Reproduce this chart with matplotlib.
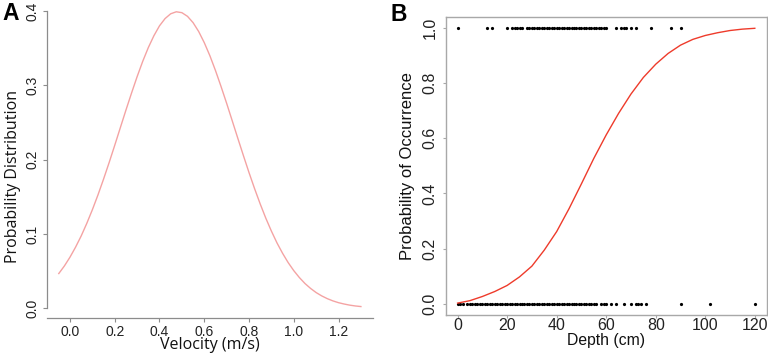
import matplotlib
matplotlib.use("Agg")
import matplotlib.pyplot as plt

# ---------------- data ----------------
# Panel A: probability distribution vs velocity
velocity = [-0.050, -0.025, 0.000, 0.025, 0.050, 0.075, 0.100, 0.125, 0.150,
            0.175, 0.200, 0.225, 0.250, 0.275, 0.300, 0.325, 0.350, 0.375,
            0.400, 0.425, 0.450, 0.475, 0.500, 0.525, 0.550, 0.575, 0.600,
            0.625, 0.650, 0.675, 0.700, 0.725, 0.750, 0.775, 0.800, 0.825,
            0.850, 0.875, 0.900, 0.925, 0.950, 0.975, 1.000, 1.025, 1.050,
            1.075, 1.100, 1.125, 1.150, 1.175, 1.200, 1.225, 1.250, 1.275,
            1.300]
prob_dist = [0.0468, 0.0570, 0.0688, 0.0823, 0.0973, 0.1142, 0.1326, 0.1525,
             0.1738, 0.1961, 0.2193, 0.2430, 0.2666, 0.2895, 0.3116, 0.3322,
             0.3507, 0.3667, 0.3800, 0.3898, 0.3962, 0.3989, 0.3977, 0.3928,
             0.3843, 0.3724, 0.3574, 0.3399, 0.3200, 0.2984, 0.2758, 0.2523,
             0.2287, 0.2054, 0.1826, 0.1609, 0.1404, 0.1213, 0.1039, 0.0880,
             0.0740, 0.0615, 0.0507, 0.0414, 0.0334, 0.0268, 0.0212, 0.0167,
             0.0130, 0.0100, 0.0076, 0.0058, 0.0043, 0.0032, 0.0024]

# Panel B: fitted probability of occurrence vs depth
depth_fit = [0, 5, 10, 15, 20, 25, 30, 35, 40, 45, 50, 55, 60, 65, 70, 75,
             80, 85, 90, 95, 100, 105, 110, 115, 120]
prob_fit = [0.003, 0.012, 0.027, 0.045, 0.067, 0.098, 0.137, 0.195, 0.262,
            0.345, 0.435, 0.527, 0.612, 0.690, 0.760, 0.820, 0.868, 0.907,
            0.937, 0.958, 0.972, 0.982, 0.990, 0.995, 0.998]

# observed depths where species present (1) / absent (0)
depth_present = [0, 12, 14, 20, 22, 23, 24, 25, 26, 28, 29, 30, 31, 32, 33,
                 34, 35, 36, 37, 38, 39, 40, 41, 42, 43, 44, 45, 46, 47, 48,
                 49, 50, 51, 52, 53, 54, 55, 56, 57, 58, 59, 60, 64, 66, 67,
                 68, 70, 72, 78, 86, 90]
depth_absent = [0, 1, 2, 4, 5, 6, 7, 8, 9, 10, 11, 12, 13, 14, 15, 16, 17,
                18, 19, 20, 21, 22, 23, 24, 25, 26, 27, 28, 29, 30, 31, 32,
                33, 34, 35, 36, 37, 38, 39, 40, 41, 42, 43, 44, 45, 46, 47,
                48, 49, 50, 51, 52, 53, 54, 55, 56, 58, 59, 60, 62, 64, 67,
                70, 72, 73, 74, 76, 90, 102, 120]

xticksA = [0.0, 0.2, 0.4, 0.6, 0.8, 1.0, 1.2]
yticksA = [0.0, 0.1, 0.2, 0.3, 0.4]
xticksB = [0, 20, 40, 60, 80, 100, 120]
yticksB = [0.0, 0.2, 0.4, 0.6, 0.8, 1.0]

# ---------------- figure ----------------
W, H = 768, 356
fig = plt.figure(figsize=(W / 100, H / 100), dpi=100)


def rect(l, t, r, b):
    return [l / W, 1 - b / H, (r - l) / W, (b - t) / H]


TICKFONT = "Liberation Sans"
axis_gray = "#8c8c8c"

# ----- Panel A -----
axA = fig.add_axes(rect(46.7, 0.7, 373, 318.3))
axA.plot(velocity, prob_dist, color="#F4A3A3", lw=1.0)
axA.set_xlim(-0.104, 1.354)
axA.set_ylim(-0.0134, 0.4138)
for s in ["top", "right"]:
    axA.spines[s].set_visible(False)
axA.spines["left"].set_bounds(0, 0.4)
for s in ["left", "bottom"]:
    axA.spines[s].set_color(axis_gray)
    axA.spines[s].set_linewidth(0.9)
axA.set_xticks(xticksA)
axA.set_xticklabels([f"{v:.1f}" for v in xticksA], fontsize=10,
                    family=TICKFONT, color="#222222")
axA.set_yticks(yticksA)
axA.set_yticklabels([f"{v:.1f}" for v in yticksA], fontsize=10,
                    family=TICKFONT, rotation=90, va="center",
                    color="#222222")
axA.tick_params(axis="both", color=axis_gray, length=3, width=0.8)
axA.tick_params(axis="x", pad=1.5)
axA.tick_params(axis="y", pad=2.5)
axA.set_xlabel("Velocity (m/s)", family="Open Sans", fontsize=11.5,
               labelpad=-1, color="#111111")
axA.set_ylabel("Probability Distribution", family="Open Sans", fontsize=11.5,
               labelpad=3, color="#111111")
axA.yaxis.label.set_y(0.445)

fig.text(2 / W, 1 - 2 / H, "A", family="Liberation Sans", weight="bold",
         fontsize=16.5, va="top", ha="left")

# ----- Panel B -----
axB = fig.add_axes(rect(445.7, 16.7, 766.7, 315))
axB.plot(depth_present, [1] * len(depth_present), "o", color="black",
         ms=2.3, mew=0)
axB.plot(depth_absent, [0] * len(depth_absent), "o", color="black",
         ms=2.3, mew=0)
axB.plot(depth_fit, prob_fit, color="#EE3B2B", lw=1.0)
axB.set_xlim(-4.8, 124.8)
axB.set_ylim(-0.04, 1.04)
for s in axB.spines.values():
    s.set_color("#a8a8a8")
    s.set_linewidth(1.0)
axB.set_xticks(xticksB)
axB.set_xticklabels([str(v) for v in xticksB], fontsize=11.5,
                    family=TICKFONT, color="#222222")
axB.set_yticks(yticksB)
axB.set_yticklabels([f"{v:.1f}" for v in yticksB], fontsize=11.5,
                    family=TICKFONT, rotation=90, va="center",
                    color="#222222")
axB.tick_params(axis="both", color="#a8a8a8", length=2, width=0.8)
axB.tick_params(axis="x", pad=0.5)
axB.tick_params(axis="y", pad=4)
axB.set_xlabel("Depth (cm)", family="Liberation Sans", fontsize=11.3,
               labelpad=0, color="#111111")
axB.set_ylabel("Probability of Occurrence", family="Liberation Sans",
               fontsize=12, labelpad=5, color="#111111")

fig.text(390 / W, 1 - 3 / H, "B", family="Liberation Sans", weight="bold",
         fontsize=16.5, va="top", ha="left")

fig.savefig("out.png", dpi=100)
